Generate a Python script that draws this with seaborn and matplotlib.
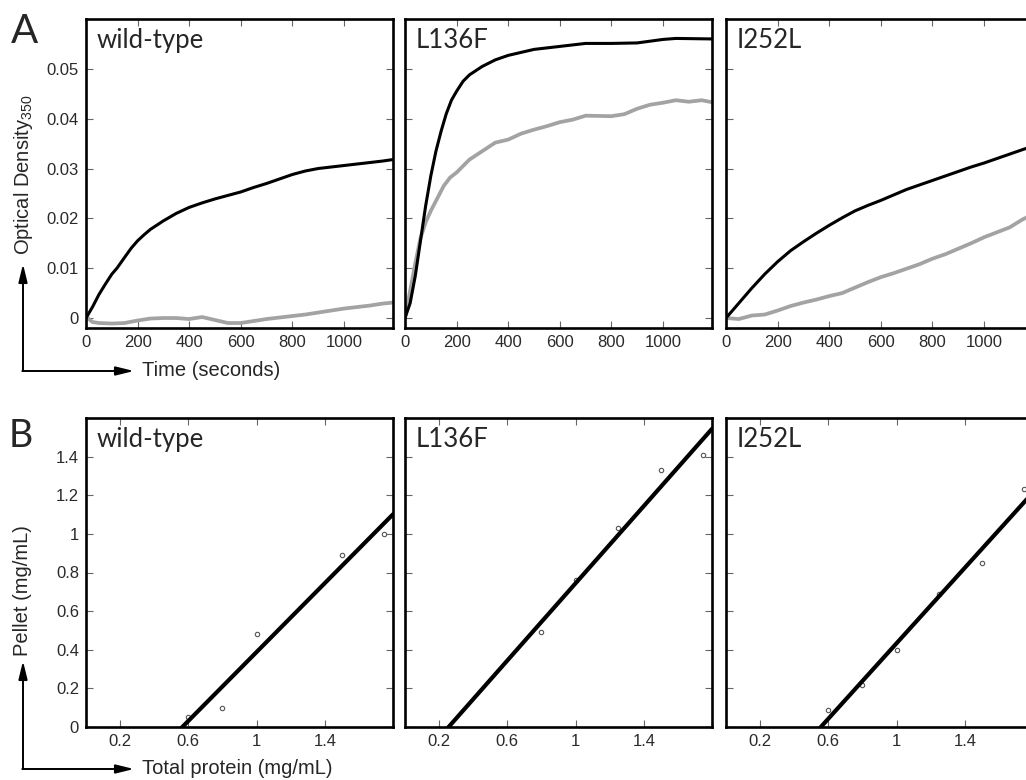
import numpy as np
import pandas as pd
import matplotlib
matplotlib.use('Agg')
import matplotlib.pyplot as plt
import seaborn as sns
from matplotlib.patches import FancyArrowPatch
from matplotlib.ticker import FuncFormatter

# ---- data ----
variants = ['wild-type', 'L136F', 'I252L']

# A: turbidity (OD350) vs time, black = upper trace, grey = lower trace
wt_t_black = [0, 25, 50, 75, 100, 120, 150, 175, 200, 225, 250, 300, 350, 400, 450, 500, 550,
              600, 650, 700, 750, 800, 850, 900, 950, 1000, 1050, 1100, 1150, 1190]
wt_od_black = [0, 0.0022, 0.0047, 0.0068, 0.0088, 0.0100, 0.0122, 0.0140, 0.0155, 0.0167,
               0.0178, 0.0195, 0.0210, 0.0222, 0.0231, 0.0239, 0.0246, 0.0253, 0.0262,
               0.0270, 0.0279, 0.0288, 0.0295, 0.0300, 0.0303, 0.0306, 0.0309, 0.0312,
               0.0315, 0.0318]
wt_t_grey = [0, 25, 50, 100, 150, 200, 250, 300, 350, 400, 450, 500, 550, 600, 650, 700,
             750, 800, 850, 900, 950, 1000, 1050, 1100, 1150, 1190]
wt_od_grey = [0.0003, -0.0008, -0.0010, -0.0011, -0.0010, -0.0005, -0.0001, 0.0, 0.0,
              -0.0002, 0.0002, -0.0004, -0.0010, -0.0010, -0.0006, -0.0002, 0.0001, 0.0004,
              0.0007, 0.0011, 0.0015, 0.0019, 0.0022, 0.0025, 0.0029, 0.0031]

l136_t_black = [0, 20, 40, 60, 80, 100, 120, 140, 160, 180, 200, 225, 250, 300, 350, 400, 450,
                500, 600, 700, 800, 900, 1000, 1050, 1190]
l136_od_black = [0, 0.0030, 0.0085, 0.0155, 0.0225, 0.0285, 0.0335, 0.0375, 0.0410, 0.0437,
                 0.0455, 0.0475, 0.0488, 0.0505, 0.0518, 0.0527, 0.0533, 0.0539, 0.0545,
                 0.0551, 0.0551, 0.0552, 0.0559, 0.0561, 0.0560]
l136_t_grey = [0, 20, 40, 60, 80, 100, 125, 150, 175, 200, 225, 250, 300, 350, 400, 450,
               500, 550, 600, 650, 700, 800, 850, 900, 950, 1000, 1050, 1100, 1150, 1190]
l136_od_grey = [0, 0.0055, 0.0110, 0.0160, 0.0192, 0.0215, 0.0240, 0.0265, 0.0282, 0.0292,
                0.0305, 0.0318, 0.0335, 0.0352, 0.0358, 0.0370, 0.0378, 0.0385, 0.0393,
                0.0398, 0.0406, 0.0405, 0.0409, 0.0420, 0.0428, 0.0432, 0.0437, 0.0434,
                0.0437, 0.0433]

i252_t_black = [0, 50, 100, 150, 200, 250, 300, 350, 400, 450, 500, 550, 600, 650, 700,
                750, 800, 850, 900, 950, 1000, 1050, 1100, 1150, 1190]
i252_od_black = [0, 0.0030, 0.0060, 0.0088, 0.0113, 0.0135, 0.0153, 0.0170, 0.0186, 0.0201,
                 0.0215, 0.0226, 0.0236, 0.0247, 0.0258, 0.0267, 0.0276, 0.0285, 0.0294,
                 0.0303, 0.0311, 0.0320, 0.0329, 0.0338, 0.0345]
i252_t_grey = [0, 50, 100, 150, 200, 250, 300, 350, 400, 450, 500, 550, 600, 650, 700, 750,
               800, 850, 900, 950, 1000, 1050, 1100, 1150, 1190]
i252_od_grey = [0, -0.0002, 0.0005, 0.0007, 0.0015, 0.0024, 0.0031, 0.0037, 0.0044, 0.0050,
                0.0061, 0.0072, 0.0082, 0.0090, 0.0099, 0.0108, 0.0119, 0.0128, 0.0139,
                0.0150, 0.0162, 0.0172, 0.0182, 0.0198, 0.0208]

# B: pellet vs total protein
wt_total = [0.6, 0.8, 1.0, 1.5, 1.75]
wt_pellet = [0.05, 0.10, 0.48, 0.89, 1.00]
l136_total = [0.8, 1.0, 1.25, 1.5, 1.75]
l136_pellet = [0.49, 0.76, 1.03, 1.33, 1.41]
i252_total = [0.6, 0.8, 1.0, 1.25, 1.5, 1.75]
i252_pellet = [0.09, 0.22, 0.40, 0.69, 0.85, 1.23]

od_ticks = [0, 0.01, 0.02, 0.03, 0.04, 0.05]
time_ticks = [0, 200, 400, 600, 800, 1000]
pellet_ticks = [0, 0.2, 0.4, 0.6, 0.8, 1.0, 1.2, 1.4]
total_ticks = [0.2, 0.6, 1.0, 1.4]

kinetics = [
    (wt_t_black, wt_od_black, wt_t_grey, wt_od_grey),
    (l136_t_black, l136_od_black, l136_t_grey, l136_od_grey),
    (i252_t_black, i252_od_black, i252_t_grey, i252_od_grey),
]
pellets = [(wt_total, wt_pellet), (l136_total, l136_pellet), (i252_total, i252_pellet)]

# ---- style ----
sns.set_style('ticks')
plt.rcParams['font.family'] = ['Liberation Sans', 'DejaVu Sans']
plt.rcParams['mathtext.fontset'] = 'custom'
plt.rcParams['mathtext.rm'] = 'Liberation Sans'
plt.rcParams['axes.edgecolor'] = 'black'
plt.rcParams['axes.linewidth'] = 1.9

W, H = 1026, 780
fig = plt.figure(figsize=(W / 100, H / 100), dpi=100)

def px(x, y):
    return x / W, 1 - y / H

lefts = [86, 405, 726]
pw, ph = 307, 309
tops = [19, 418]
fmt = FuncFormatter(lambda v, p: '%g' % round(v, 4))
grey = '#a3a3a3'
title_font = ['Lato', 'DejaVu Sans']

def style_axis(ax, first):
    ax.tick_params(direction='in', length=5, width=0.8, color='#666666',
                   top=True, right=True, labelsize=12, pad=5, labelcolor='#2a2a2a')
    ax.xaxis.set_major_formatter(fmt)
    ax.yaxis.set_major_formatter(fmt)
    if not first:
        ax.tick_params(labelleft=False)
    for s in ax.spines.values():
        s.set_linewidth(1.9)
    ax.set_xlabel('')
    ax.set_ylabel('')

# row A
for i, (tb, ob, tg, og) in enumerate(kinetics):
    x0, y0 = px(lefts[i], tops[0] + ph)
    ax = fig.add_axes([x0, y0, pw / W, ph / H])
    sns.lineplot(x=tg, y=og, ax=ax, color=grey, lw=2.7, estimator=None)
    sns.lineplot(x=tb, y=ob, ax=ax, color='black', lw=2.2, estimator=None)
    ax.set_xlim(0, 1190)
    ax.set_ylim(-0.002, 0.060)
    ax.set_xticks(time_ticks)
    ax.set_yticks(od_ticks)
    style_axis(ax, i == 0)
    ax.text(0.036, 0.905, variants[i], transform=ax.transAxes, fontsize=18.5,
            family=title_font, va='baseline', ha='left')

# row B
for i, (tot, pel) in enumerate(pellets):
    x0, y0 = px(lefts[i], tops[1] + ph)
    ax = fig.add_axes([x0, y0, pw / W, ph / H])
    ax.set_xlim(0, 1.8)
    ax.set_ylim(0, 1.6)
    sns.regplot(x=np.array(tot), y=np.array(pel), ax=ax, ci=None, truncate=False,
                color='black',
                scatter_kws=dict(s=10, facecolors='white', edgecolors='#555555',
                                 linewidths=0.8, alpha=1),
                line_kws=dict(color='black', lw=3.0))
    ax.set_xlim(0, 1.8)
    ax.set_ylim(0, 1.6)
    ax.set_xticks(total_ticks)
    ax.set_yticks(pellet_ticks)
    style_axis(ax, i == 0)
    ax.text(0.036, 0.905, variants[i], transform=ax.transAxes, fontsize=18.5,
            family=title_font, va='baseline', ha='left')

# panel letters
fig.text(*px(11, 43), 'A', fontsize=29, family=title_font, va='baseline', ha='left')
fig.text(*px(9, 447), 'B', fontsize=27, family=title_font, va='baseline', ha='left')

# axis labels
fig.text(*px(24, 175), r'Optical Density$_{\mathrm{350}}$', rotation=90,
         fontsize=14.5, ha='center', va='center')
fig.text(*px(142, 371), 'Time (seconds)', fontsize=14.5, ha='left', va='center')
fig.text(*px(23, 591), 'Pellet (mg/mL)', rotation=90, fontsize=14.5,
         ha='center', va='center')
fig.text(*px(142, 769), 'Total protein (mg/mL)', fontsize=14.5, ha='left', va='center')

# L-shaped arrows
astyle = '-|>,head_length=0.9,head_width=0.22'
for corner_y, top_y in [(371, 264), (769, 661)]:
    fig.add_artist(FancyArrowPatch(px(23, corner_y), px(23, top_y), transform=fig.transFigure,
                                   arrowstyle=astyle, mutation_scale=12, lw=1.4,
                                   color='black', shrinkA=0, shrinkB=0))
    fig.add_artist(FancyArrowPatch(px(22.3, corner_y), px(134, corner_y), transform=fig.transFigure,
                                   arrowstyle=astyle, mutation_scale=12, lw=1.4,
                                   color='black', shrinkA=0, shrinkB=0))

fig.savefig('out.png', dpi=100)
